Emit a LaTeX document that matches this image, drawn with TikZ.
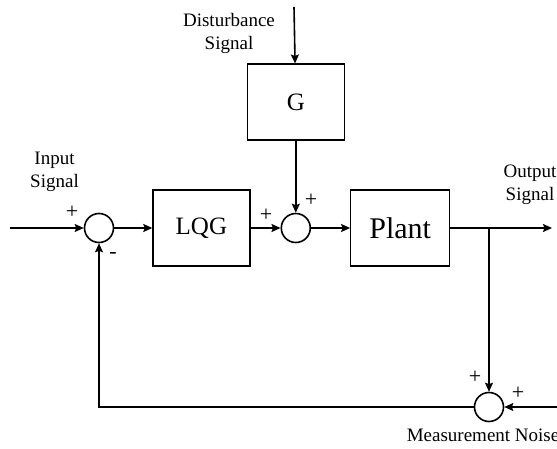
\documentclass[tikz,border=0pt]{standalone}
\usepackage{fontspec}
\setmainfont{Liberation Serif}
\usetikzlibrary{positioning,arrows.meta}

\begin{document}
\begin{tikzpicture}[x=1pt, y=1pt, line width=1.6pt, node distance=30pt,
	block/.style={draw, line width=1.2pt, minimum width=97pt, minimum height=76pt, font=\fontsize{25}{28}\selectfont},
	sum/.style={draw, circle, minimum size=29pt, inner sep=0pt},
	lbl/.style={align=center, inner sep=0pt, font=\fontsize{19}{23}\selectfont},
	sgn/.style={inner sep=0pt, font=\fontsize{22}{22}\selectfont},
	>={Stealth[length=9pt, width=8pt, inset=1.5pt]}]
	\useasboundingbox (0,0) rectangle (557,448);
	\node[sum] (S1) at (99,220) {};
	\node[block, right=38pt of S1] (LQG) {LQG};
	\node[sum, right=of LQG] (S2) {};
	\node[block, right=39pt of S2, minimum width=99pt, font=\fontsize{30}{34}\selectfont] (P) {Plant};
	\node[block, above=72pt of S2] (G) {G};
	\node[sum] (S3) at (489,41) {};
	\coordinate (in) at (10,220);
	\coordinate (out) at (552,220);
	\coordinate (dist) at (294,441);
	\coordinate (noise) at (557,41);
	\coordinate (br) at (489,220);
	\draw[->] (in) -- (S1);
	\draw[->] (S1) -- (LQG);
	\draw[->] (LQG) -- (S2);
	\draw[->] (S2) -- (P);
	\draw[->] (P) -- (out);
	\draw[->] (dist) -- (G);
	\draw[->] (G) -- (S2);
	\draw[->] (br) -- (S3);
	\draw[->] (noise) -- (S3);
	\draw[->] (S3) -| (S1);
	% labels
	\node[lbl] (inlbl) at (54.5,276) {Input\\Signal};
	\node[lbl] (distlbl) at (229,415) {Disturbance\\Signal};
	\node[lbl] (outlbl) at (530,263) {Output\\Signal};
	\node[lbl, anchor=west] (noiselbl) at (406,13) {Measurement Noise};
	\node[sgn] (p1) at (72,236) {+};
	\node[sgn] (m1) at (113,193) {-};
	\node[sgn] (p2) at (266,233) {+};
	\node[sgn] (p3) at (311,248) {+};
	\node[sgn] (p4) at (475,71) {+};
	\node[sgn] (p5) at (518,55) {+};
\end{tikzpicture}
\end{document}
